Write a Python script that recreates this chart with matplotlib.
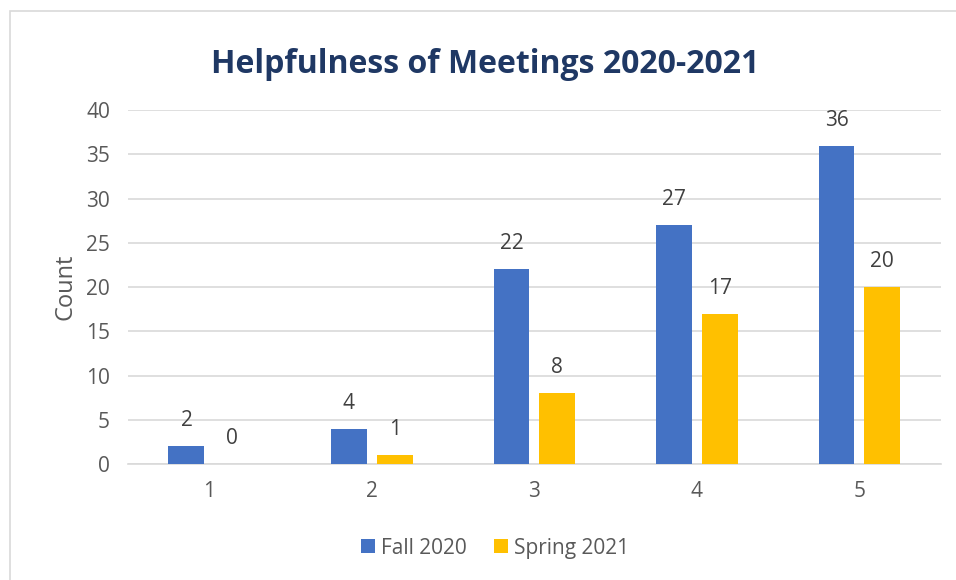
import matplotlib.pyplot as plt
import numpy as np
from matplotlib.patches import Rectangle

categories = ["1", "2", "3", "4", "5"]
fall_2020 = [2, 4, 22, 27, 36]
spring_2021 = [0, 1, 8, 17, 20]
series_names = ["Fall 2020", "Spring 2021"]

plt.rcParams["font.family"] = ["Open Sans", "DejaVu Sans"]
text_gray = "#595959"

fig = plt.figure(figsize=(9.56, 5.8), dpi=100)
ax = fig.add_axes([0.134, 0.2, 0.850, 0.610])

# outer chart border (light gray)
fig.patches.append(Rectangle((10 / 956, -0.05), 1.2, 1.05 - 11 / 580,
                             transform=fig.transFigure, fill=False,
                             edgecolor="#D9D9D9", linewidth=1.2))

x = np.arange(1, len(categories) + 1)
width = 0.221
off = 0.141
b1 = ax.bar(x - off, fall_2020, width, color="#4472C4", label=series_names[0], zorder=3)
b2 = ax.bar(x + off, spring_2021, width, color="#FFC000", label=series_names[1], zorder=3)

for bars, vals in ((b1, fall_2020), (b2, spring_2021)):
    for rect, v in zip(bars, vals):
        ax.text(rect.get_x() + rect.get_width() / 2, v + 1.7, str(v),
                ha="center", va="bottom", fontsize=15, color="#404040")

ax.set_xlim(0.5, 5.5)
ax.set_ylim(0, 40)
ax.set_yticks(range(0, 41, 5))
ax.set_xticks(x)
ax.set_xticklabels(categories)
ax.yaxis.grid(True, color="#D9D9D9", linewidth=1.2, zorder=0)
ax.tick_params(axis="both", length=0, labelsize=15, labelcolor=text_gray)
ax.tick_params(axis="x", pad=12)
ax.tick_params(axis="y", pad=13)
for s in ("top", "right", "left"):
    ax.spines[s].set_visible(False)
ax.spines["bottom"].set_color("#D9D9D9")
ax.spines["bottom"].set_linewidth(1.2)

ax.set_ylabel("Count", fontsize=17, color=text_gray, labelpad=6)
fig.text(0.507, 0.888, "Helpfulness of Meetings 2020-2021", ha="center", va="center",
         fontsize=23, fontweight="bold", color="#1F3864")

fig.legend(handles=[b1, b2], loc="center", bbox_to_anchor=(0.518, 0.055), ncol=2,
           frameon=False, fontsize=15, labelcolor=text_gray, handlelength=0.65,
           handleheight=0.65, handletextpad=0.3, columnspacing=1.3)

fig.savefig("out.png", dpi=100)
